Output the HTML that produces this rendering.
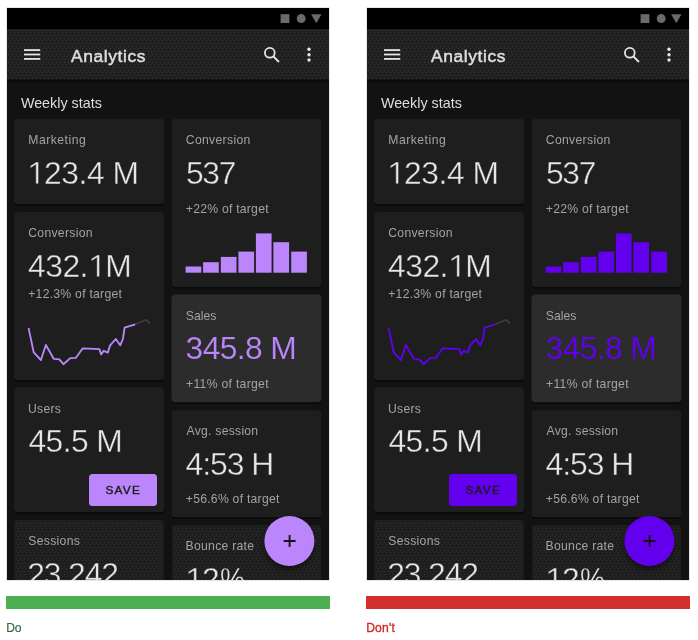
<!DOCTYPE html>
<html><head><meta charset="utf-8">
<style>
*{box-sizing:border-box;margin:0;padding:0}
html,body{width:698px;height:640px;background:#fff;overflow:hidden;font-family:"Liberation Sans",sans-serif;}
.fig{position:absolute;top:0;width:324px;height:640px}
.phone{position:absolute;left:1px;top:8px;width:321.5px;height:572.3px;background:#121212;overflow:hidden;box-shadow:0 0 0 0.6px #d8d8d8}
.status{position:absolute;left:0;top:0;width:322px;height:22px;background:#000}
.appbar{position:absolute;left:0;top:21.5px;width:322px;height:50px;background:#202020}
.fig{will-change:transform}
.title{position:absolute;left:64.1px;top:37.6px;font-size:17.4px;color:#dedede;-webkit-text-stroke:0.5px #dedede;line-height:20px;letter-spacing:0.6px}
.sec{position:absolute;left:13.9px;top:85.7px;font-size:14.3px;letter-spacing:0.02px;color:#dedede;line-height:18px}
.card{position:absolute;background:#1e1e1e;border-radius:3.5px}
.lbl{position:absolute;letter-spacing:0.28px;font-size:12.2px;color:#a3a3a3;line-height:14px;white-space:nowrap}
.num{position:absolute;font-size:31.8px;letter-spacing:-0.6px;color:#e6e6e6;-webkit-text-stroke:0.4px var(--bg,#1e1e1e);line-height:32px;white-space:nowrap}
.g1{width:0.5562em;height:0.688em;vertical-align:baseline;margin-right:var(--ls,-0.6px);overflow:visible}
.bar{position:absolute;background:var(--p);bottom:0}
.btn{position:absolute;left:82.3px;top:465.8px;width:68px;height:32px;border-radius:3.5px;background:var(--p);color:#1c1c1c;font-size:11.8px;-webkit-text-stroke:0.4px #1c1c1c;letter-spacing:1.25px;text-align:center;line-height:32px}
.fab{position:absolute;left:257.4px;top:508px;width:50px;height:50px;border-radius:50%;background:var(--p);box-shadow:0 3px 6px rgba(0,0,0,.5)}
.rule{position:absolute;left:0;top:596px;width:324px;height:13px}
.cap{position:absolute;left:0.2px;top:620.8px;font-size:12.4px;line-height:14px;letter-spacing:0.1px}
</style></head><body>
<div class="fig" style="left:6px;--p:#bb86fc">
 <div class="phone">
  <div class="status">
   <svg width="322" height="22" style="position:absolute;left:0;top:0"><g fill="#696969"><rect x="273.6" y="6.2" width="8.8" height="8.8"/><circle cx="294.2" cy="10.6" r="4.5"/><path d="M304.1 6.2h10.4l-5.2 9z"/></g></svg>
  </div>
  <svg width="322" height="80" style="position:absolute;left:0;top:0"><defs><linearGradient id="sh" x1="0" y1="0" x2="0" y2="1"><stop offset="0" stop-color="#000" stop-opacity=".6"/><stop offset="1" stop-color="#000" stop-opacity="0"/></linearGradient></defs><rect x="0" y="71.4" width="322" height="4.5" fill="url(#sh)"/><rect x="0" y="21" width="322" height="50.4" fill="#202020"/></svg>
  <svg width="322" height="573" style="position:absolute;left:0;top:0" shape-rendering="crispEdges"><defs><pattern id="dt" width="12" height="8" patternUnits="userSpaceOnUse"><g fill="#fff"><rect x="3" y="0" width="1" height="1"/><rect x="7" y="0" width="1" height="1"/><rect x="11" y="0" width="1" height="1"/><rect x="0" y="3" width="1" height="1"/><rect x="3" y="3" width="1" height="1"/><rect x="6" y="3" width="1" height="1"/><rect x="9" y="3" width="1" height="1"/><rect x="1" y="6" width="1" height="1"/><rect x="5" y="6" width="1" height="1"/><rect x="9" y="6" width="1" height="1"/></g></pattern></defs>
   <rect x="0" y="22" width="322" height="49" fill="url(#dt)" opacity=".1"/>
   
  </svg>
  <svg width="322" height="72" style="position:absolute;left:0;top:0"><g fill="#e6e6e6"><rect x="17" y="41.2" width="16.2" height="1.8"/><rect x="17" y="45.6" width="16.2" height="1.8"/><rect x="17" y="50" width="16.2" height="1.8"/><circle cx="302" cy="41.3" r="1.7"/><circle cx="302" cy="46.7" r="1.7"/><circle cx="302" cy="52" r="1.7"/></g><g fill="none" stroke="#e6e6e6" stroke-width="1.8"><circle cx="262.8" cy="44.8" r="4.9"/><path d="M266.5 48.5l5.5 5.5"/></g></svg>
  <div class="title">Analytics</div>
  <div class="sec">Weekly stats</div>

  <svg width="322" height="573" style="position:absolute;left:0;top:0"><g fill="#000" opacity=".5">
   <rect x="7" y="112.4" width="150" height="85.3" rx="3.5"/>
   <rect x="7" y="205.5" width="150" height="168.2" rx="3.5"/>
   <rect x="7" y="380.9" width="150" height="125" rx="3.5"/>
   <rect x="7" y="513.6" width="150" height="100" rx="3.5"/>
   <rect x="164.8" y="112.4" width="149.5" height="168.1" rx="3.5"/>
   <rect x="164.5" y="288.0" width="149.8" height="107.9" rx="3.5"/>
   <rect x="164.8" y="403.8" width="149.5" height="107" rx="3.5"/>
   <rect x="164.8" y="518.6" width="149.5" height="100" rx="3.5"/>
  </g><g fill="#1e1e1e">
   <rect x="7" y="110.8" width="150" height="85.3" rx="3.5"/>
   <rect x="7" y="203.9" width="150" height="168.2" rx="3.5"/>
   <rect x="7" y="379.3" width="150" height="125" rx="3.5"/>
   <rect x="7" y="512" width="150" height="100" rx="3.5"/>
   <rect x="164.8" y="110.8" width="149.5" height="168.1" rx="3.5"/>
   <rect x="164.5" y="286.4" width="149.8" height="107.9" rx="3.5" fill="#2c2c2c"/>
   <rect x="164.8" y="402.2" width="149.5" height="107" rx="3.5"/>
   <rect x="164.8" y="517" width="149.5" height="100" rx="3.5"/>
  </g><g shape-rendering="crispEdges" opacity=".09"><rect x="9" y="514" width="146" height="60" fill="url(#dt)"/><rect x="167" y="519" width="145" height="55" fill="url(#dt)"/></g></svg>

  <div class="lbl l1" style="left:21.35px;top:125px;letter-spacing:0.480px;--ls:0.480px;">Marketing</div>
  <div class="lbl l2" style="left:21.26px;top:218px;letter-spacing:0.292px;--ls:0.292px;">Conversion</div>
  <div class="lbl l3" style="left:21.24px;top:279px;letter-spacing:0.259px;--ls:0.259px;">+12.3% of target</div>
  <div class="lbl l4" style="left:21.05px;top:394px;letter-spacing:0.240px;--ls:0.240px;">Users</div>
  <div class="lbl l5" style="left:21.27px;top:526.4px;letter-spacing:0.303px;--ls:0.303px;">Sessions</div>
  <div class="lbl l6" style="left:178.81px;top:125px;letter-spacing:0.319px;--ls:0.319px;">Conversion</div>
  <div class="lbl l7" style="left:178.79px;top:194px;letter-spacing:0.242px;--ls:0.242px;">+22% of target</div>
  <div class="lbl l8" style="left:178.87px;top:300.6px;letter-spacing:0.016px;--ls:0.016px;">Sales</div>
  <div class="lbl l9" style="left:179.04px;top:369px;letter-spacing:0.296px;--ls:0.296px;">+11% of target</div>
  <div class="lbl l10" style="left:179.50px;top:416px;letter-spacing:0.252px;--ls:0.252px;">Avg. session</div>
  <div class="lbl l11" style="left:178.79px;top:484px;letter-spacing:0.252px;--ls:0.252px;">+56.6% of target</div>
  <div class="lbl l12" style="left:178.60px;top:531px;letter-spacing:0.273px;--ls:0.273px;">Bounce rate</div>
  <div class="num n1" style="left:19.71px;top:148.7px;letter-spacing:-0.425px;--ls:-0.425px;"><svg class="g1" viewBox="0 0 1139 1409"><path d="M565 1409V172L215 399V244L600 0H746V1409Z" fill="currentColor" stroke="var(--bg,#1e1e1e)" stroke-width="32"/></svg>23.4 M</div>
  <div class="num n2" style="left:20.94px;top:242px;letter-spacing:-0.465px;--ls:-0.465px;">432.<svg class="g1" viewBox="0 0 1139 1409"><path d="M565 1409V172L215 399V244L600 0H746V1409Z" fill="currentColor" stroke="var(--bg,#1e1e1e)" stroke-width="32"/></svg>M</div>
  <div class="num n3" style="left:21.49px;top:417px;letter-spacing:-0.593px;--ls:-0.593px;">45.5 M</div>
  <div class="num n4" style="left:20.29px;top:550px;letter-spacing:-1.128px;--ls:-1.128px;">23,242</div>
  <div class="num n5" style="left:178.89px;top:149px;letter-spacing:-1.216px;--ls:-1.216px;">537</div>
  <div class="num n6" style="left:178.60px;top:324px;color:var(--p);--bg:#2c2c2c;-webkit-text-stroke-width:0.15px;letter-spacing:-0.638px;--ls:-0.638px;">345.8 M</div>
  <div class="num n7" style="left:178.49px;top:440px;letter-spacing:-0.987px;--ls:-0.987px;">4:53 H</div>
  <div class="num n8" style="left:176.9px;top:555px;letter-spacing:0"><span style="position:absolute;left:0.8px"><svg class="g1" viewBox="0 0 1139 1409"><path d="M565 1409V172L215 399V244L600 0H746V1409Z" fill="currentColor" stroke="var(--bg,#1e1e1e)" stroke-width="32"/></svg></span><span style="position:absolute;left:18.1px">2</span><span style="position:absolute;left:35.9px;transform:scaleX(.88);transform-origin:0 0">%</span></div>

  <svg width="322" height="572" style="position:absolute;left:0;top:0"><path fill="none" stroke="var(--p)" stroke-width="1.85" stroke-linejoin="round" d="M21.6 320.1L26.7 344.4L33.9 352L38.9 337L46.7 350.8L52.4 351.4L56.4 356.2L63.3 350.1L68.9 349.8L75.8 340.3L92.4 341.1L94.2 346.4L96.7 342.8L100.8 344.6L103.1 337.4L108.8 331L113.2 337.3L115.9 331L117.6 319.6L128.2 316.3"/><path fill="none" stroke="#3e3e3e" stroke-width="1.7" d="M128.2 316.3L139.2 311.8L142.8 315.6"/></svg>
  <div class="btn">SAVE</div>
  <svg width="322" height="573" style="position:absolute;left:0;top:0"><g fill="var(--p)"><rect x="178.6" y="258.5" width="15.7" height="6.2"/><rect x="196.1" y="254.2" width="15.7" height="10.5"/><rect x="213.8" y="248.9" width="15.7" height="15.8"/><rect x="231.4" y="243.6" width="15.7" height="21.1"/><rect x="248.9" y="225.4" width="15.7" height="39.3"/><rect x="266.4" y="234.2" width="15.7" height="30.5"/><rect x="284.2" y="243.6" width="15.7" height="21.1"/></g></svg>
  <svg width="322" height="573" style="position:absolute;left:0;top:0;overflow:visible"><defs><filter id="fs" x="-30%" y="-30%" width="160%" height="170%"><feGaussianBlur stdDeviation="3.2"/></filter></defs><circle cx="282.4" cy="537" r="24" fill="#000" opacity=".55" filter="url(#fs)"/><circle cx="282.4" cy="533" r="25" fill="var(--p)"/><path d="M282.6 527v12M276.6 533h12" stroke="#151515" stroke-width="1.9" fill="none"/></svg>
 </div>
 <div class="rule" style="background:#4caf50"></div>
 <div class="cap" style="color:#32603a;-webkit-text-stroke:0.12px #32603a;letter-spacing:-0.15px;font-size:12.1px">Do</div>
</div>
<div class="fig" style="left:366px;--p:#6200ee">
 <div class="phone">
  <div class="status">
   <svg width="322" height="22" style="position:absolute;left:0;top:0"><g fill="#696969"><rect x="273.6" y="6.2" width="8.8" height="8.8"/><circle cx="294.2" cy="10.6" r="4.5"/><path d="M304.1 6.2h10.4l-5.2 9z"/></g></svg>
  </div>
  <svg width="322" height="80" style="position:absolute;left:0;top:0"><defs><linearGradient id="sh" x1="0" y1="0" x2="0" y2="1"><stop offset="0" stop-color="#000" stop-opacity=".6"/><stop offset="1" stop-color="#000" stop-opacity="0"/></linearGradient></defs><rect x="0" y="71.4" width="322" height="4.5" fill="url(#sh)"/><rect x="0" y="21" width="322" height="50.4" fill="#202020"/></svg>
  <svg width="322" height="573" style="position:absolute;left:0;top:0" shape-rendering="crispEdges"><defs><pattern id="dt" width="12" height="8" patternUnits="userSpaceOnUse"><g fill="#fff"><rect x="3" y="0" width="1" height="1"/><rect x="7" y="0" width="1" height="1"/><rect x="11" y="0" width="1" height="1"/><rect x="0" y="3" width="1" height="1"/><rect x="3" y="3" width="1" height="1"/><rect x="6" y="3" width="1" height="1"/><rect x="9" y="3" width="1" height="1"/><rect x="1" y="6" width="1" height="1"/><rect x="5" y="6" width="1" height="1"/><rect x="9" y="6" width="1" height="1"/></g></pattern></defs>
   <rect x="0" y="22" width="322" height="49" fill="url(#dt)" opacity=".1"/>
   
  </svg>
  <svg width="322" height="72" style="position:absolute;left:0;top:0"><g fill="#e6e6e6"><rect x="17" y="41.2" width="16.2" height="1.8"/><rect x="17" y="45.6" width="16.2" height="1.8"/><rect x="17" y="50" width="16.2" height="1.8"/><circle cx="302" cy="41.3" r="1.7"/><circle cx="302" cy="46.7" r="1.7"/><circle cx="302" cy="52" r="1.7"/></g><g fill="none" stroke="#e6e6e6" stroke-width="1.8"><circle cx="262.8" cy="44.8" r="4.9"/><path d="M266.5 48.5l5.5 5.5"/></g></svg>
  <div class="title">Analytics</div>
  <div class="sec">Weekly stats</div>

  <svg width="322" height="573" style="position:absolute;left:0;top:0"><g fill="#000" opacity=".5">
   <rect x="7" y="112.4" width="150" height="85.3" rx="3.5"/>
   <rect x="7" y="205.5" width="150" height="168.2" rx="3.5"/>
   <rect x="7" y="380.9" width="150" height="125" rx="3.5"/>
   <rect x="7" y="513.6" width="150" height="100" rx="3.5"/>
   <rect x="164.8" y="112.4" width="149.5" height="168.1" rx="3.5"/>
   <rect x="164.5" y="288.0" width="149.8" height="107.9" rx="3.5"/>
   <rect x="164.8" y="403.8" width="149.5" height="107" rx="3.5"/>
   <rect x="164.8" y="518.6" width="149.5" height="100" rx="3.5"/>
  </g><g fill="#1e1e1e">
   <rect x="7" y="110.8" width="150" height="85.3" rx="3.5"/>
   <rect x="7" y="203.9" width="150" height="168.2" rx="3.5"/>
   <rect x="7" y="379.3" width="150" height="125" rx="3.5"/>
   <rect x="7" y="512" width="150" height="100" rx="3.5"/>
   <rect x="164.8" y="110.8" width="149.5" height="168.1" rx="3.5"/>
   <rect x="164.5" y="286.4" width="149.8" height="107.9" rx="3.5" fill="#2c2c2c"/>
   <rect x="164.8" y="402.2" width="149.5" height="107" rx="3.5"/>
   <rect x="164.8" y="517" width="149.5" height="100" rx="3.5"/>
  </g><g shape-rendering="crispEdges" opacity=".09"><rect x="9" y="514" width="146" height="60" fill="url(#dt)"/><rect x="167" y="519" width="145" height="55" fill="url(#dt)"/></g></svg>

  <div class="lbl l1" style="left:21.35px;top:125px;letter-spacing:0.480px;--ls:0.480px;">Marketing</div>
  <div class="lbl l2" style="left:21.26px;top:218px;letter-spacing:0.292px;--ls:0.292px;">Conversion</div>
  <div class="lbl l3" style="left:21.24px;top:279px;letter-spacing:0.259px;--ls:0.259px;">+12.3% of target</div>
  <div class="lbl l4" style="left:21.05px;top:394px;letter-spacing:0.240px;--ls:0.240px;">Users</div>
  <div class="lbl l5" style="left:21.27px;top:526.4px;letter-spacing:0.303px;--ls:0.303px;">Sessions</div>
  <div class="lbl l6" style="left:178.81px;top:125px;letter-spacing:0.319px;--ls:0.319px;">Conversion</div>
  <div class="lbl l7" style="left:178.79px;top:194px;letter-spacing:0.242px;--ls:0.242px;">+22% of target</div>
  <div class="lbl l8" style="left:178.87px;top:300.6px;letter-spacing:0.016px;--ls:0.016px;">Sales</div>
  <div class="lbl l9" style="left:179.04px;top:369px;letter-spacing:0.296px;--ls:0.296px;">+11% of target</div>
  <div class="lbl l10" style="left:179.50px;top:416px;letter-spacing:0.252px;--ls:0.252px;">Avg. session</div>
  <div class="lbl l11" style="left:178.79px;top:484px;letter-spacing:0.252px;--ls:0.252px;">+56.6% of target</div>
  <div class="lbl l12" style="left:178.60px;top:531px;letter-spacing:0.273px;--ls:0.273px;">Bounce rate</div>
  <div class="num n1" style="left:19.71px;top:148.7px;letter-spacing:-0.425px;--ls:-0.425px;"><svg class="g1" viewBox="0 0 1139 1409"><path d="M565 1409V172L215 399V244L600 0H746V1409Z" fill="currentColor" stroke="var(--bg,#1e1e1e)" stroke-width="32"/></svg>23.4 M</div>
  <div class="num n2" style="left:20.94px;top:242px;letter-spacing:-0.465px;--ls:-0.465px;">432.<svg class="g1" viewBox="0 0 1139 1409"><path d="M565 1409V172L215 399V244L600 0H746V1409Z" fill="currentColor" stroke="var(--bg,#1e1e1e)" stroke-width="32"/></svg>M</div>
  <div class="num n3" style="left:21.49px;top:417px;letter-spacing:-0.593px;--ls:-0.593px;">45.5 M</div>
  <div class="num n4" style="left:20.29px;top:550px;letter-spacing:-1.128px;--ls:-1.128px;">23,242</div>
  <div class="num n5" style="left:178.89px;top:149px;letter-spacing:-1.216px;--ls:-1.216px;">537</div>
  <div class="num n6" style="left:178.60px;top:324px;color:var(--p);--bg:#2c2c2c;-webkit-text-stroke-width:0.15px;letter-spacing:-0.638px;--ls:-0.638px;">345.8 M</div>
  <div class="num n7" style="left:178.49px;top:440px;letter-spacing:-0.987px;--ls:-0.987px;">4:53 H</div>
  <div class="num n8" style="left:176.9px;top:555px;letter-spacing:0"><span style="position:absolute;left:0.8px"><svg class="g1" viewBox="0 0 1139 1409"><path d="M565 1409V172L215 399V244L600 0H746V1409Z" fill="currentColor" stroke="var(--bg,#1e1e1e)" stroke-width="32"/></svg></span><span style="position:absolute;left:18.1px">2</span><span style="position:absolute;left:35.9px;transform:scaleX(.88);transform-origin:0 0">%</span></div>

  <svg width="322" height="572" style="position:absolute;left:0;top:0"><path fill="none" stroke="var(--p)" stroke-width="1.85" stroke-linejoin="round" d="M21.6 320.1L26.7 344.4L33.9 352L38.9 337L46.7 350.8L52.4 351.4L56.4 356.2L63.3 350.1L68.9 349.8L75.8 340.3L92.4 341.1L94.2 346.4L96.7 342.8L100.8 344.6L103.1 337.4L108.8 331L113.2 337.3L115.9 331L117.6 319.6L128.2 316.3"/><path fill="none" stroke="#3e3e3e" stroke-width="1.7" d="M128.2 316.3L139.2 311.8L142.8 315.6"/></svg>
  <div class="btn">SAVE</div>
  <svg width="322" height="573" style="position:absolute;left:0;top:0"><g fill="var(--p)"><rect x="178.6" y="258.5" width="15.7" height="6.2"/><rect x="196.1" y="254.2" width="15.7" height="10.5"/><rect x="213.8" y="248.9" width="15.7" height="15.8"/><rect x="231.4" y="243.6" width="15.7" height="21.1"/><rect x="248.9" y="225.4" width="15.7" height="39.3"/><rect x="266.4" y="234.2" width="15.7" height="30.5"/><rect x="284.2" y="243.6" width="15.7" height="21.1"/></g></svg>
  <svg width="322" height="573" style="position:absolute;left:0;top:0;overflow:visible"><defs><filter id="fs" x="-30%" y="-30%" width="160%" height="170%"><feGaussianBlur stdDeviation="3.2"/></filter></defs><circle cx="282.4" cy="537" r="24" fill="#000" opacity=".55" filter="url(#fs)"/><circle cx="282.4" cy="533" r="25" fill="var(--p)"/><path d="M282.6 527v12M276.6 533h12" stroke="#151515" stroke-width="1.9" fill="none"/></svg>
 </div>
 <div class="rule" style="background:#d32f2f"></div>
 <div class="cap" style="color:#d02424;-webkit-text-stroke:0.3px #d02424;letter-spacing:0.2px;font-size:12.1px">Don't</div>
</div>
</body></html>
